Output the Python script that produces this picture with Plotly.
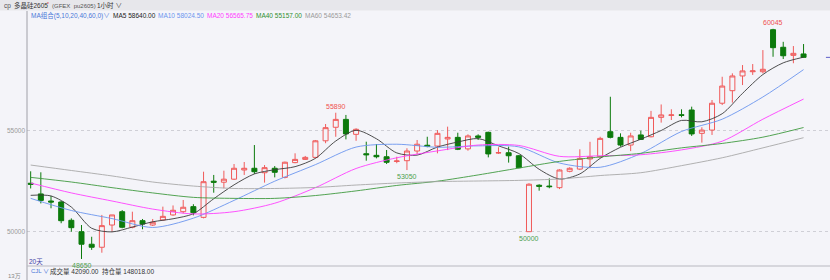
import plotly.graph_objects as go

# ---------------- data ----------------
opens = [52400, 51870, 51520, 51470, 50565, 50000, 49380, 49230, 50330, 50990,
         50220, 50545, 50330, 50580, 50830, 50990, 51240, 50710, 52500, 52450,
         52600, 53055, 53140, 52920, 53140, 52690, 53420, 53580, 53680, 54500,
         55170, 55560, 54820, 53860, 53780, 53710, 53480, 53515, 53995, 54280,
         54240, 54590, 54670, 54100, 54740, 54920, 53900, 53910, 53760, 50000,
         52300, 52260, 52180, 52990, 53100, 53600, 53710, 54950, 54670, 54290,
         54790, 54700, 55660, 55760, 55790, 56025, 54870, 55030, 56360, 56980,
         57710, 57920, 57920, 60000, 59130, 58730, 58800]
highs = [52990, 52940, 51770, 51520, 50660, 50330, 49750, 50830, 50830, 51070,
         50990, 50630, 50630, 51240, 51300, 51570, 51360, 52970, 52810, 53020,
         53350, 53450, 54290, 53300, 53250, 53470, 53880, 53750, 54540, 55330,
         55890, 55780, 55120, 54455, 54340, 54045, 53710, 54130, 54540, 54700,
         55030, 55200, 54900, 54820, 54820, 54950, 54180, 54210, 53800, 52400,
         52350, 52640, 53090, 53190, 54080, 54450, 54700, 56680, 54870, 54900,
         55000, 55980, 56300, 56060, 56060, 56190, 55170, 56520, 57670, 57840,
         58250, 58300, 58990, 60045, 59400, 59190, 59290]
lows = [52140, 51400, 51160, 50420, 50000, 48650, 49100, 48960, 50000, 50170,
        50170, 50120, 50280, 50545, 50790, 50910, 50810, 50660, 51930, 52150,
        52560, 52810, 52860, 52430, 52690, 52640, 53390, 53550, 53630, 54380,
        54700, 54570, 54500, 53515, 53630, 53350, 53390, 53050, 53830, 54180,
        53880, 54040, 54040, 54010, 54540, 53680, 53850, 53420, 53140, 50000,
        52030, 52150, 52110, 52940, 53050, 53140, 53660, 54620, 54210, 53990,
        54540, 54670, 55400, 55530, 55660, 54740, 54410, 54790, 56270, 56390,
        57260, 57760, 57840, 58660, 58550, 58340, 58630]
closes = [52350, 51550, 51470, 50545, 50200, 49380, 49230, 50300, 50830, 50220,
          50545, 50380, 50470, 50760, 51060, 51210, 50940, 52475, 52450, 52600,
          53140, 53140, 52970, 53170, 52940, 53440, 53580, 53680, 54500, 55150,
          55560, 54840, 55070, 53810, 53710, 53435, 53500, 53995, 54330, 54230,
          54870, 54670, 54080, 54740, 54670, 53850, 53910, 53760, 53170, 52350,
          52250, 52230, 53055, 53140, 53630, 53710, 54620, 54670, 54290, 54740,
          54570, 55660, 55780, 55780, 55760, 54840, 55030, 56360, 57210, 57710,
          57960, 57960, 58040, 59110, 58710, 58830, 58630]
bars = list(range(len(closes)))

# moving-average curves
ma5_x = list(range(0, 77, 2))
ma5 = [51800, 51770, 51220, 50170, 49990, 50230, 50490, 50640, 50890, 51630,
       52320, 52860, 53070, 53220, 53630, 54490, 55020, 54600, 53900, 53790,
       54190, 54440, 54610, 54250, 53870, 53090, 52610, 52860, 53630, 54180,
       54580, 55010, 55510, 55440, 55840, 56850, 57780, 58360, 58640.00]
ma_x = list(range(0, 77, 4))
ma10 = [51650, 51050, 50650, 50210, 50670, 51550, 52500, 53320, 54190, 54330,
        54180, 54250, 54200, 53400, 53190, 53870, 54960, 55570, 56670, 58024.50]
ma20 = [52410, 51920, 51520, 51120, 50880, 50990, 51410, 52180, 53130, 53660,
        54000, 54290, 54270, 53730, 53760, 53810, 54050, 54480, 55570, 56565.75]
ma40 = [52690, 52460, 52180, 51920, 51700, 51650, 51650, 51790, 52020, 52290,
        52500, 52810, 53150, 53480, 53700, 53880, 54150, 54370, 54680, 55157.00]
ma60 = [53300, 53030, 52760, 52460, 52260, 52140, 52140, 52190, 52310, 52410,
        52480, 52510, 52540, 52610, 52780, 52920, 53270, 53660, 54150, 54653.42]

peak_bars = [30, 73]
trough_bars = [5, 37, 49]

ma_names = ["MA5", "MA10", "MA20", "MA40", "MA60"]
ma_colors = ["#3a3a3a", "#6b95ee", "#ff40ff", "#3f9a3f", "#a8a8a8"]
volume_text = "成交量 42090.00  持仓量 148018.00"
y_ticks = [50000, 55000]

# ---------------- figure ----------------
BG = "#f4f4f9"
RED = "#f05a5a"
GREEN = "#0c7a0c"
FONT = "Liberation Sans, Noto Sans CJK SC, sans-serif"

W, H = 830, 280
ML, MR, MT, MB = 27, 0, 22, 16
PW, PH = W - ML - MR, H - MT - MB


def px(xp):
    return (xp - ML) / PW


def py(yp):
    return (H - MB - yp) / PH


fig = go.Figure()

fig.add_trace(go.Candlestick(
    x=bars, open=opens, high=highs, low=lows, close=closes,
    increasing=dict(line=dict(color=RED, width=1), fillcolor=BG),
    decreasing=dict(line=dict(color=GREEN, width=1), fillcolor=GREEN),
    whiskerwidth=0, showlegend=False, hoverinfo="skip",
))

series = [(ma5_x, ma5), (ma_x, ma10), (ma_x, ma20), (ma_x, ma40), (ma_x, ma60)]
for (xs, ys), c, n in zip(series, ma_colors, ma_names):
    fig.add_trace(go.Scatter(x=xs, y=ys, mode="lines", name=n,
                             line=dict(color=c, width=0.9, shape="spline", smoothing=0.8),
                             showlegend=False, hoverinfo="skip"))

shapes = []
# header band
shapes.append(dict(type="rect", xref="paper", yref="paper", x0=px(0), x1=1,
                   y0=py(10.5), y1=py(0), fillcolor="#e7e7eb", line=dict(width=0), layer="below"))
# left axis line
shapes.append(dict(type="line", xref="paper", yref="paper", x0=0, x1=0,
                   y0=py(280), y1=py(11), line=dict(color="#a0a0a8", width=1)))
# volume pane separator
shapes.append(dict(type="line", xref="paper", yref="paper", x0=0, x1=1,
                   y0=py(266), y1=py(266), line=dict(color="#b8b8c0", width=1)))
# last price marker at the right edge
shapes.append(dict(type="line", xref="x", yref="y", x0=78.2, x1=78.6,
                   y0=closes[-1], y1=closes[-1], line=dict(color="#6060c8", width=1)))

ann = []


def txt(x, y, s, color, size=7, anchor="left"):
    ann.append(dict(xref="paper", yref="paper", x=px(x), y=py(y), text=s, showarrow=False,
                    xanchor=anchor, yanchor="middle", font=dict(family=FONT, size=size, color=color)))


# header row
txt(2, 5.5, "cp", "#555", 6.5)
txt(12, 5.5, "多晶硅2605", "#333", 6.5)
txt(45, 4, "*", "#e03030", 5)
txt(50, 5.5, "(GFEX  pu2605)", "#555", 6)
txt(95, 5.5, "1小时 ∨", "#333", 6.5)

# MA legend row
txt(29, 15.7, "MA组合(5,10,20,40,60,0)∨", "#4a78d8", 6.5)
leg_x = [111, 156, 205, 254, 303]
last_vals = [ma5[-1], ma10[-1], ma20[-1], ma40[-1], ma60[-1]]
leg_cols = ["#222222", "#6b95ee", "#ff40ff", "#2f8f2f", "#9a9a9a"]
for xx, n, v, c in zip(leg_x, ma_names, last_vals, leg_cols):
    txt(xx, 15.7, f"{n} {v:.2f}", c, 6.5)

# bottom texts
txt(27, 261.5, "20天", "#4646a8", 6.5)
txt(29, 271, "CJL ∨", "#4a78d8", 6)
txt(48, 271, volume_text, "#333", 6.5)
txt(23, 276, "13万", "#888", 6, anchor="right")

# extreme labels
for b in peak_bars:
    ann.append(dict(xref="x", yref="y", x=b, y=highs[b], text=f"{highs[b]}", showarrow=False,
                    xanchor="center", yanchor="bottom", yshift=1,
                    font=dict(family=FONT, size=7, color="#f05050")))
for b in trough_bars:
    ann.append(dict(xref="x", yref="y", x=b, y=lows[b], text=f"{lows[b]}", showarrow=False,
                    xanchor="center", yanchor="top", yshift=-1,
                    font=dict(family=FONT, size=7, color="#4f9f4f")))

# y range from pixel geometry of the reference (55000 at y=130.7, 50000 at y=231.7)
per_px = 5000 / 101.0
y_top = 55000 + (130.7 - MT) * per_px
y_bot = 55000 - (H - MB - 130.7) * per_px

fig.update_layout(
    width=W, height=H, margin=dict(l=ML, r=MR, t=MT, b=MB),
    paper_bgcolor=BG, plot_bgcolor=BG,
    shapes=shapes, annotations=ann, showlegend=False,
    xaxis=dict(range=[-0.36, 78.6], visible=False, rangeslider=dict(visible=False),
               fixedrange=True),
    yaxis=dict(range=[y_bot, y_top], tickvals=y_ticks, ticktext=[str(v) for v in y_ticks],
               tickfont=dict(family=FONT, size=6.5, color="#9a9a9a"),
               showgrid=True, gridcolor="#cfcfd6", griddash="dot", gridwidth=1,
               zeroline=False, showline=False, ticks="", ticklabelstandoff=1),
    font=dict(family=FONT),
)

fig.write_html("out.html")
